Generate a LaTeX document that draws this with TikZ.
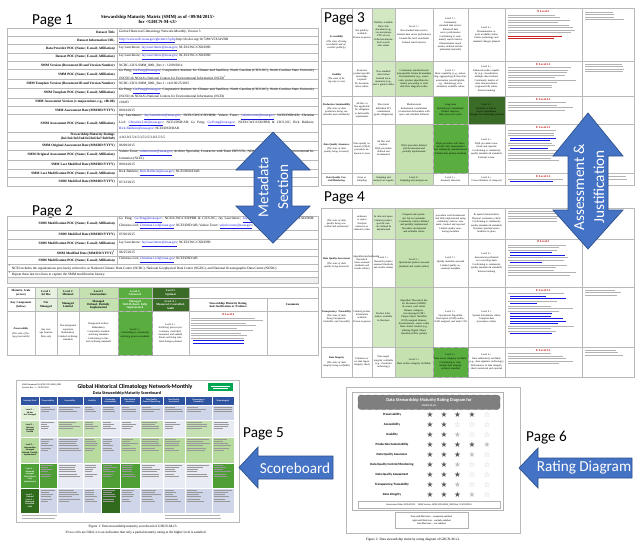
\documentclass[tikz,border=0pt]{standalone}
\usepackage{fontspec}
\setmainfont{Liberation Serif}
\newfontfamily\calibri{Carlito}
\newfontfamily\djv{DejaVu Sans}

\definecolor{arrowblue}{HTML}{4472C4}
\definecolor{arrowedge}{HTML}{2F528F}
\definecolor{linkblue}{HTML}{1A1AE6}
\definecolor{redmark}{HTML}{C00000}
\definecolor{lvone}{HTML}{E6F2DF}
\definecolor{lvtwo}{HTML}{D2E8C3}
\definecolor{lvthree}{HTML}{C4E1AF}
\definecolor{lvfour}{HTML}{5AAE40}
\definecolor{lvfive}{HTML}{3B6C27}
\definecolor{sbblue}{HTML}{2E54A1}
\definecolor{sbdark}{HTML}{D0D6EA}
\definecolor{sblight}{HTML}{E8EAF4}
\definecolor{sblv1}{HTML}{E2EFD9}
\definecolor{sblv2}{HTML}{C5E0B3}
\definecolor{sblv3}{HTML}{B7DA9E}
\definecolor{sblv4}{HTML}{4E9F36}
\definecolor{sblv5}{HTML}{2F6A1D}
\definecolor{badgegreen}{HTML}{00A651}
\definecolor{titlegrey}{HTML}{7F7F7F}
\definecolor{stardark}{HTML}{595959}
\definecolor{starlight}{HTML}{BFBFBF}

\newcommand\lnk[1]{\textcolor{linkblue}{\underline{#1}}}
\newcommand\kc[2]{\textbf{\textit{#1}}\\[1pt]\textit{#2}}
% text cell between x1,x2 and y1,y2
\newcommand\mcell[6][]{%
  \pgfmathsetmacro\cw{(#3-#2-2)*0.03}%
  \node[cell,text width=\cw cm,#1] at ({(#2+#3)/2},{(#4+#5)/2}) {#6};}
% grey strokes for unreadable small print
\newcommand\blurb[5][]{%
  \foreach \k in {1,...,#5}{%
    \pgfmathsetmacro\lw{#4*(0.6+0.4*rnd)}%
    \draw[txtline,#1] (#2,{#3+(\k-1)*2.5}) -- ++(\lw,0);}}
\newcommand\redhd[3]{\node[redhead] at (#1,#2) {{\djv ★}~Level #3};}

\tikzset{
  grid/.style={draw=gray!55, line width=0.25pt},
  pagelbl/.style={font=\calibri\fontsize{13}{15}\selectfont, anchor=base west, inner sep=0pt},
  arrowlbl/.style={font=\calibri\fontsize{13}{17}\selectfont, text=white, align=center, inner sep=0pt},
  blockarrow/.style={fill=arrowblue, draw=arrowedge, line width=0.6pt},
  rowlbl/.style={font=\bfseries\fontsize{2.9}{3.4}\selectfont, anchor=east, align=right, inner sep=0pt},
  rowval/.style={font=\fontsize{2.9}{3.4}\selectfont, anchor=west, align=justify, text width=5.85cm, inner sep=0pt},
  cell/.style={font=\fontsize{2.2}{2.65}\selectfont, align=center, inner sep=0pt},
  hdcell/.style={cell, font=\bfseries\fontsize{2.5}{2.9}\selectfont},
  txtline/.style={gray!60, line width=0.4pt},
  redhead/.style={font=\bfseries\fontsize{2.5}{3}\selectfont, text=redmark, inner sep=0pt},
  sbhead/.style={font=\calibri\bfseries\fontsize{1.8}{2.1}\selectfont, text=white, align=center, inner sep=0pt},
  sblvl/.style={font=\calibri\bfseries\fontsize{1.8}{2.1}\selectfont, align=center, inner sep=0pt, text width=0.5cm},
  sbline/.style={black!40, line width=0.25pt},
  ratelbl/.style={font=\calibri\bfseries\fontsize{2.7}{3.2}\selectfont, inner sep=0pt},
  star/.style={font=\djv\fontsize{6.5}{7}\selectfont, inner sep=0pt},
  caption/.style={font=\fontsize{2.9}{3.5}\selectfont, inner sep=0pt},
}

\begin{document}
\begin{tikzpicture}[x=0.03cm,y=-0.03cm]
\pgfmathsetseed{11}
\useasboundingbox (0,0) rectangle (640,551);
\fill[white] (0,0) rectangle (640,551);

% ---------- Page 1 ----------
\node[pagelbl] (pone) at (32,24) {Page 1};
\node[font=\bfseries\fontsize{4}{4.8}\selectfont, align=center, inner sep=0pt] (smmtitle) at (158,19.5)
  {Stewardship Maturity Matrix (SMM) as of <09/04/2015>\\for <GHCN-M-v3>};
\foreach \ya/\yb/\lab/\val [count=\r] in {
  28/36.3/{Dataset Title}/{Global Historical Climatology Network-Monthly, Version 3},
  36.3/44.6/{Dataset Information URL}/{\lnk{http://www.ncdc.noaa.gov/ghcnm/v3.php} http://dx.doi.org/10.7289/V5X34VDR},
  44.6/52.9/{Data Provider POC (Name; E-mail; Affiliation)}/{Jay Lawrimore; \lnk{Jay.Lawrimore@noaa.gov}; NCEI/CWC/CSD/DSB},
  52.9/61.2/{Dataset POC (Name; E-mail; Affiliation)}/{Jay Lawrimore; \lnk{Jay.Lawrimore@noaa.gov}; NCEI/CWC/CSD/DSB},
  61.2/69.5/{SMM Version (Document ID and Version Number)}/{NCDC-CICS-SMM\_0001\_Rev.1 / 12/09/2014},
  69.5/79.5/{SMM POC (Name; E-mail; Affiliation)}/{Ge Peng; \lnk{Ge.Peng@noaa.gov}; Cooperative Institute for Climate and Satellites, North Carolina (CICS-NC), North Carolina State University (NCSU) \& NOAA's National Centers for Environmental Information (NCEI)\textsuperscript{1}},
  79.5/87.8/{SMM Template Version (Document ID and Version Number)}/{NCDC-CICS-SMM\_0001\_Rev.1 / v4.0 06/25/2015},
  87.8/98/{SMM Template POC (Name; E-mail; Affiliation)}/{Ge Peng; \lnk{Ge.Peng@noaa.gov}; Cooperative Institute for Climate and Satellites, North Carolina (CICS-NC), North Carolina State University (NCSU) \& NOAA's National Centers for Environmental Information (NCEI)},
  98/106.3/{SMM Assessment Version (v-major.minor, e.g., v0b.00)}/{v01r03},
  106.3/114.6/{SMM Assessment Date (MM/DD/YYYY)}/{09/04/2015},
  114.6/132.5/{SMM Assessment POC (Name; E-mail; Affiliation)}/{Jay Lawrimore; \lnk{Jay.Lawrimore@noaa.gov}; NCEI/CWC/CSD/DSB; Valerie Toner; \lnk{valerie.toner@noaa.gov}; NCEI/DSD/AB; Christina Lief; \lnk{Christina.Lief@noaa.gov}; NCEI/DSD/AB; Ge Peng; \lnk{Ge.Peng@noaa.gov}; NCEI/CWC/CSD/PRB \& CICS-NC; Rick Baldwin; \lnk{Rick.Baldwin@noaa.gov}; NCEI/DSD/DAB},
  132.5/141.5/{Stewardship Maturity Ratings\\(In1/In2/In3/In4/In5/In6/In7/In8/In9)}/{4.0/2.0/2.5/4.5/3.5/2.5/3.0/2.5/3.5},
  141.5/149.8/{SMM Original Assessment Date (MM/DD/YYYY)}/{06/08/2015},
  149.8/160.5/{SMM Original Assessment POC (Name; E-mail; Affiliation)}/{Valerie Toner; \lnk{valerie.toner@noaa.gov}; Archive Specialist, Contractor with Team ERT/STG; NOAA's National Centers for Environmental Information (NCEI)},
  160.5/168.8/{SMM Last Modified Date (MM/DD/YYYY)}/{09/04/2015},
  168.8/177.6/{SMM Last Modification POC (Name; E-mail; Affiliation)}/{Rick Baldwin; \lnk{Rick.Baldwin@noaa.gov}; NCEI/DSD/DAB},
  177.6/186.5/{SMM Modified Date (MM/DD/YYYY)}/{07/22/2015}}{
  \draw[grid] (7,\ya) rectangle (318,\yb);
  \draw[grid] (117,\ya) -- (117,\yb);
  \node[rowlbl] (onel\r) at (115,{(\ya+\yb)/2}) {\lab};
  \node[rowval] (onev\r) at (119,{(\ya+\yb)/2}) {\val};
}

% ---------- Page 2 ----------
\node[pagelbl] (ptwo) at (32,215) {Page 2};
\foreach \ya/\yb/\lab/\val [count=\r] in {
  216/230.5/{SMM Modification POC (Name; E-mail; Affiliation)}/{Ge Peng; \lnk{Ge.Peng@noaa.gov}; NCEI/CWC/CSD/PRB \& CICS-NC; Jay Lawrimore; \lnk{Jay.Lawrimore@noaa.gov}; NCEI/CWC/CSD/DSB; Christina Lief; \lnk{Christina.Lief@noaa.gov}; NCEI/DSD/AB; Valerie Toner; \lnk{valerie.toner@noaa.gov}; NCEI/DSD/AB},
  230.5/239/{SMM Modified Date (MM/DD/YYYY)}/{07/06/2015},
  239/249/{SMM Modification POC (Name; E-mail; Affiliation)}/{Jay Lawrimore; \lnk{Jay.Lawrimore@noaa.gov}; NCEI/CWC/CSD/DSB},
  249/256.5/{SMM Modified Date (MM/DD/YYYY)\textsuperscript{2}}/{06/25/2015},
  256.5/264/{SMM Modification POC (Name; E-mail; Affiliation)}/{Christina Lief; \lnk{Christina.Lief@noaa.gov}; NCEI/DSD/AB}}{
  \draw[grid] (7,\ya) rectangle (318,\yb);
  \draw[grid] (117,\ya) -- (117,\yb);
  \node[rowlbl] (twol\r) at (115,{(\ya+\yb)/2}) {\lab};
  \node[rowval] (twov\r) at (119,{(\ya+\yb)/2}) {\val};
}
\draw[grid] (7,264) rectangle (318,271);
\draw[grid] (7,271) rectangle (318,277.5);
\draw[grid, fill=gray!12] (7,277.5) rectangle (318,283.5);
\node[rowval, text width=9cm] (fnone) at (9,267.5) {\textsuperscript{1} NCEI includes the organizations previously referred to as National Climatic Data Center (NCDC), National Geophysical Data Center (NGDC), and National Oceanographic Data Center (NODC).};
\node[rowval, text width=9cm] (fntwo) at (9,274.2) {\textsuperscript{2} Repeat these last two lines to capture the SMM modification history.};

% maturity scale table
\fill[lvone] (35,287) rectangle (57,311);
\fill[lvtwo] (57,287) rectangle (79,311);
\fill[lvthree] (79,287) rectangle (118,311);
\fill[lvfour] (118,287) rectangle (152,311);
\fill[lvfive] (152,287) rectangle (189,311);
\fill[lvfour] (118,311) rectangle (152,355);
\draw[grid] (7,287) rectangle (318,355);
\draw[grid] (7,298.5) -- (318,298.5);
\draw[grid] (7,311) -- (318,311);
\foreach \x in {35,57,79,118,152,189} \draw[grid] (\x,287) -- (\x,355);
\draw[grid] (267,298.5) -- (267,355);
\draw[dashed, gray!75, line width=0.3pt] (118,311) rectangle (152,355);
\mcell[hdcell]{7}{35}{287}{298.5}{Maturity Scale\\(across)}
\mcell[hdcell]{7}{35}{298.5}{311}{Key Component\\(below)}
\mcell[hdcell]{35}{57}{287}{298.5}{Level 1\\Ad Hoc}
\mcell[hdcell]{35}{57}{298.5}{311}{Not\\Managed}
\mcell[hdcell]{57}{79}{287}{298.5}{Level 2\\Minimal}
\mcell[hdcell]{57}{79}{298.5}{311}{Managed\\Limited}
\mcell[hdcell]{79}{118}{287}{298.5}{Level 3\\Intermediate}
\mcell[hdcell]{79}{118}{298.5}{311}{Managed\\Defined, Partially\\Implemented}
\mcell[hdcell, text=white]{118}{152}{287}{298.5}{Level 4\\Advanced}
\mcell[hdcell, text=white]{118}{152}{298.5}{311}{Managed\\Well-Defined, Fully\\Implemented}
\mcell[hdcell, text=white]{152}{189}{287}{298.5}{Level 5\\Optimal}
\mcell[hdcell, text=white]{152}{189}{298.5}{311}{Level 4 +\\Measured, Controlled,\\Audit}
\mcell[hdcell]{189}{267}{298.5}{311}{Stewardship Maturity Rating\\And Justification or Evidence}
\mcell[hdcell]{267}{318}{298.5}{311}{Comments}
\mcell{7}{35}{311}{355}{\kc{Preservability}{(The state of being preservable)}}
\mcell{35}{57}{311}{355}{Any storage location\\[0.6pt]Data only}
\mcell{57}{79}{311}{355}{Non-designated repository\\[0.6pt]Redundancy\\[0.6pt]Limited archiving standards}
\mcell{79}{118}{311}{355}{Designated archive\\[0.6pt]Redundancy\\[0.6pt]Community standard archiving metadata\\[0.6pt]Conforming to limited archiving standards}
\mcell{118}{152}{311}{355}{Level 3 +\\[0.6pt]Conforming to community archiving process standards}
\mcell{152}{189}{311}{355}{Level 4 +\\[0.6pt]Archiving process performance controlled, measured, and audited\\[0.6pt]Future archiving standard changes planned}
\redhd{228}{314.5}{4}
\blurb{191}{318}{74}{9}
\blurb[linkblue]{193}{340.5}{60}{2}

% ---------- Page 3 ----------
\fill[lvtwo] (372,8) rectangle (395,61);
\fill[lvtwo] (372,61) rectangle (395,96);
\fill[lvthree] (395,61) rectangle (433,96);
\fill[lvfour] (433,96) rectangle (468,124);
\fill[lvfive] (468,96) rectangle (505,124);
\fill[lvthree] (395,124) rectangle (433,173);
\fill[lvfour] (433,124) rectangle (468,173);
\fill[lvtwo] (372,173) rectangle (395,185);
\fill[lvthree] (395,173) rectangle (433,185);
\draw[grid] (321,8) rectangle (634,185);
\foreach \x in {352,372,395,433,468,505,582} \draw[grid] (\x,8) -- (\x,185);
\foreach \y in {61,96,124,173} \draw[grid] (321,\y) -- (634,\y);
\draw[dashed, gray!75, line width=0.3pt] (433,124) rectangle (468,173);
\mcell{321}{352}{24}{61}{\kc{Accessibility}{(The state of being searchable and accessible publicly)}}
\mcell{352}{372}{8}{61}{Not publicly available\\[0.6pt]Person-to-person}
\mcell{372}{395}{8}{61}{Publicly available\\[0.6pt]Direct file download (e.g., via anonymous FTP server)\\[0.6pt]Collection/dataset-level searchable online}
\mcell{395}{433}{8}{61}{Level 2 +\\[0.6pt]Non-standard data service\\[0.6pt]Limited data server performance\\[0.6pt]Granule/file level searchable\\[0.6pt]Limited search metrics}
\mcell{433}{468}{8}{61}{Level 3 +\\[0.6pt]Community-standard data service\\[0.6pt]Enhanced data server performance\\[0.6pt]Conforming to community search metrics\\[0.6pt]Dissemination report metrics defined and implemented internally}
\mcell{468}{505}{8}{61}{Level 4 +\\[0.6pt]Dissemination reports available online\\[0.6pt]Future technology and standard changes planned}
\mcell{321}{352}{61}{96}{\kc{Usability}{(The state of being easy to use)}}
\mcell{352}{372}{61}{96}{Extensive product-specific knowledge required\\[0.6pt]No documentation online}
\mcell{372}{395}{61}{96}{Non-standard data format\\[0.6pt]Limited documentation (e.g., user's guide) online}
\mcell{395}{433}{61}{96}{Community standard-based interoperable format \& metadata\\[0.6pt]Documentation (e.g., source code, product algorithm document, processing or total data flow diagram) online}
\mcell{433}{468}{61}{96}{Level 3 +\\[0.6pt]Basic capability (e.g., subsetting, aggregating) \& data characterization (overall/global, e.g., climatology, error estimates) available online}
\mcell{468}{505}{61}{96}{Level 4 +\\[0.6pt]Enhanced online capability (e.g., visualization, multiple data formats)\\[0.6pt]Community metrics of data characterization (regional/cell) online\\[0.6pt]External ranking}
\mcell{321}{352}{96}{124}{\kc{Production Sustainability}{(The state of data production being sustainable and extendable)}}
\mcell{352}{372}{96}{124}{Ad Hoc or Not applicable\\[0.6pt]No obligation or deliverable requirement}
\mcell{372}{395}{96}{124}{Short-term\\[0.6pt]Individual PI's commitment (grant obligations)}
\mcell{395}{433}{96}{124}{Medium-term\\[0.6pt]Institutional commitment (contractual deliverables with specs and schedule defined)}
\mcell{433}{468}{96}{124}{Long-term\\[0.6pt]Institutional commitment\\[0.6pt]Product improvement process in place}
\mcell{468}{505}{96}{124}{Level 4 +\\[0.6pt]National or international commitment\\[0.6pt]Changes for technology planned}
\mcell{321}{352}{124}{173}{\kc{Data Quality Assurance}{(The state of data quality being screened)}}
\mcell{352}{372}{124}{173}{Data quality assurance (DQA) procedure unknown or none}
\mcell{372}{395}{124}{173}{Ad Hoc and random\\[0.6pt]DQA procedure defined and documented}
\mcell{395}{433}{124}{173}{DQA procedure defined and documented and partially implemented}
\mcell{433}{468}{124}{173}{DQA procedure well documented, fully implemented and community standard-based\\[0.6pt]Limited data quality metadata}
\mcell{468}{505}{124}{173}{Level 4 +\\[0.6pt]DQA procedure monitored and reported\\[0.6pt]Conforming to community quality metadata \& standards\\[0.6pt]External review}
\mcell{321}{352}{173}{185}{\textbf{\textit{Data Quality Control/Monitoring}}}
\mcell{352}{372}{173}{185}{None or Sampling}
\mcell{372}{395}{173}{185}{Sampling and analysis are regular}
\mcell{395}{433}{173}{185}{Level 2+\\Sampling and analysis are}
\mcell{433}{468}{173}{185}{Level 3 +\\Anomaly detection}
\mcell{468}{505}{173}{185}{Level 4 +\\Cross-validation of temporal}
% justification and comments, page 3
\redhd{543}{11.5}{2}
\blurb{508}{15}{70}{8}
\blurb[redmark!85]{508}{36}{68}{2}
\redhd{543}{64}{2.5}
\blurb{508}{67.5}{70}{9}
\redhd{543}{99}{4.5}
\blurb{508}{102.5}{70}{4}
\redhd{543}{127}{3.5}
\blurb{508}{130.5}{70}{3}
\blurb[linkblue]{510}{138}{55}{2}
\blurb{508}{143}{70}{2}
\blurb[linkblue]{510}{148}{55}{1}
\blurb{508}{150.5}{70}{5}
\redhd{543}{176}{2.5}
\blurb{508}{179}{70}{1}
\blurb[linkblue]{510}{181.5}{45}{1}
\blurb{585}{12}{45}{4}
\blurb{585}{64}{45}{4}
\blurb{585}{176.5}{45}{2}
\node[pagelbl] (pthree) at (324,22) {Page 3};

% ---------- Page 4 ----------
\node[pagelbl] (pfour) at (324,201) {Page 4};
\fill[lvtwo] (372,208) rectangle (395,239);
\fill[lvthree] (395,208) rectangle (433,239);
\fill[lvthree] (395,239) rectangle (433,287);
\fill[lvtwo] (372,287) rectangle (395,347);
\fill[lvthree] (395,287) rectangle (433,347);
\fill[lvthree] (395,347) rectangle (433,377);
\fill[lvfour] (433,347) rectangle (468,377);
\draw[grid] (321,208) rectangle (634,377);
\foreach \x in {352,372,395,433,468,505,582} \draw[grid] (\x,208) -- (\x,377);
\foreach \y in {239,287,347} \draw[grid] (321,\y) -- (634,\y);
\draw[dashed, gray!75, line width=0.3pt] (433,347) rectangle (468,377);
\mcell{321}{352}{208}{239}{\textit{(The state of data quality being controlled and monitored)}}
\mcell{352}{372}{208}{239}{unknown or sparse\\[0.6pt]Analysis unknown or random in time}
\mcell{372}{395}{208}{239}{In time and space\\[0.6pt]Limited product-specific metrics defined \& implemented}
\mcell{395}{433}{208}{239}{Frequent and systematic but not automatic\\[0.6pt]Community metrics defined and partially implemented\\[0.6pt]Procedure documented and available online}
\mcell{433}{468}{208}{239}{procedure well documented and fully implemented using community metrics; automatic, tracked and reported\\[0.6pt]Limited quality monitoring metadata}
\mcell{468}{505}{208}{239}{\& spatial characteristics\\[0.6pt]Physical consistency check\\[0.6pt]Conforming to community quality metadata \& standards\\[0.6pt]Dynamic providers/users feedback in place}
\mcell{321}{352}{239}{287}{\kc{Data Quality Assessment}{(The state of data quality being assessed)}}
\mcell{352}{372}{239}{287}{Algorithm/method/model theoretical basis assessed (methods and results online)}
\mcell{372}{395}{239}{287}{Level 1 +\\[0.6pt]Research product assessed (methods and results online)}
\mcell{395}{433}{239}{287}{Level 2 +\\[0.6pt]Operational product assessed (methods and results online)}
\mcell{433}{468}{239}{287}{Level 3 +\\[0.6pt]Quality metadata assessed\\[0.6pt]Limited quality assessment metadata}
\mcell{468}{505}{239}{287}{Level 4 +\\[0.6pt]Assessment performed on a recurring basis\\[0.6pt]Conforming to community quality metadata \& standards\\[0.6pt]External ranking}
\mcell{321}{352}{287}{347}{\kc{Transparency/ Traceability}{(The state of data being transparent, trackable, and traceable)}}
\mcell{352}{372}{287}{347}{Limited product information available\\[0.6pt]Person-to-person}
\mcell{372}{395}{287}{347}{Product information available in literature}
\mcell{395}{433}{287}{347}{Algorithm Theoretical Basis Document (ATBD) \& source code online\\[0.6pt]Dataset configuration managed (CM)\\[0.6pt]Unique Object Identifier (UOI) assigned (dataset, documentation, source code)\\[0.6pt]Data citation tracked (e.g., utilizing Digital Object Identifier (DOI) system)}
\mcell{433}{468}{287}{347}{Level 3 +\\[0.6pt]Operational Algorithm Description (OAD) online; OAD assigned, and under CM}
\mcell{468}{505}{287}{347}{Level 4 +\\[0.6pt]System information online\\[0.6pt]Complete data provenance online}
\mcell{321}{352}{347}{377}{\kc{Data Integrity}{(The state of data integrity being verifiable)}}
\mcell{352}{372}{347}{377}{Unknown or no data ingest integrity check}
\mcell{372}{395}{347}{377}{Data ingest integrity verifiable (e.g., checksum technology)}
\mcell{395}{433}{347}{377}{Level 2 +\\[0.6pt]Data archive integrity verifiable}
\mcell{433}{468}{347}{377}{Level 3 +\\[0.6pt]Data access integrity verifiable\\[0.6pt]Conforming to community data integrity technical standard}
\mcell{468}{505}{347}{377}{Level 4 +\\[0.6pt]Data authenticity verifiable (e.g., data signature technology)\\[0.6pt]Performance of data integrity check monitored and reported}
% justification and comments, page 4
\blurb{508}{211}{70}{5}
\redhd{543}{241.5}{3}
\blurb{508}{245}{70}{3}
\blurb[linkblue]{510}{252.5}{60}{2}
\blurb{508}{257.5}{70}{2}
\blurb[linkblue]{510}{262.5}{40}{1}
\blurb{508}{265}{70}{5}
\redhd{543}{290}{2.5}
\blurb{508}{293.5}{70}{1}
\blurb[linkblue]{510}{296}{60}{2}
\blurb{508}{301}{70}{1}
\blurb[linkblue]{510}{303.5}{40}{1}
\blurb{508}{306}{70}{3}
\blurb[linkblue]{510}{313.5}{62}{5}
\blurb{508}{326}{70}{3}
\blurb[linkblue]{510}{333.5}{50}{1}
\redhd{543}{350}{3.5}
\blurb{508}{353.5}{70}{5}
\blurb{585}{290}{45}{3}
\blurb{585}{350}{45}{3}

% ---------- Page 5: scoreboard ----------
\def\sbx{{21,39,57,83,101,120,140,163,185,212,234}}
\def\sby{{397,405,420,437,463,488,513}}
\draw[gray!55, line width=0.4pt] (16,380) rectangle (239,522);
\node[font=\calibri\fontsize{1.9}{2.3}\selectfont, align=left, anchor=west, inner sep=0pt] (sbdoc) at (22,386.5)
  {SMM Document ID: NCDC-CICS-SMM\_0001\\Version: Rev. 1 -- 12/09/2014};
\node[font=\calibri\bfseries\fontsize{5}{6}\selectfont, inner sep=0pt] (sbtitle) at (135,386.5) {Global Historical Climatology Network-Monthly};
\node[font=\calibri\bfseries\fontsize{3.6}{4}\selectfont, inner sep=0pt] (sbsub) at (127,393) {Data Stewardship Maturity Scoreboard};
\fill[badgegreen] (208,383) rectangle (233,391);
\draw[white, line width=0.3pt] (211,386) -- (230,386) (213,388.5) -- (228,388.5);
\fill[sbblue] (21,397) rectangle (234,405);
\foreach \l in {1,...,5}{
  \pgfmathsetmacro\ya{\sby[\l]}
  \pgfmathsetmacro\yb{\sby[\l+1]}
  \ifodd\l \fill[sbdark] (39,\ya) rectangle (234,\yb); \else \fill[sblight] (39,\ya) rectangle (234,\yb); \fi
  \fill[sblv\l] (21,\ya) rectangle (39,\yb);
}
% cells reached by each component
\foreach \c/\l in {1/4,2/2,3/2,3/3,4/4,4/5,5/3,5/4,6/2,6/3,7/3,8/2,8/3,9/3,9/4}{
  \pgfmathsetmacro\xa{\sbx[\c]}
  \pgfmathsetmacro\xb{\sbx[\c+1]}
  \pgfmathsetmacro\ya{\sby[\l]}
  \pgfmathsetmacro\yb{\sby[\l+1]}
  \fill[sblv\l] (\xa,\ya) rectangle (\xb,\yb);
}
\foreach \l/\n in {1/3,2/4,3/6,4/6,5/6}{
  \pgfmathsetmacro\ya{\sby[\l]}
  \foreach \c in {1,...,9}{
    \pgfmathsetmacro\xa{\sbx[\c]}
    \pgfmathsetmacro\xb{\sbx[\c+1]}
    \foreach \k in {1,...,\n}{
      \pgfmathsetmacro\lw{(\xb-\xa-4)*(0.45+0.55*rnd)}
      \draw[sbline] ({\xa+2},{\ya+2+(\k-1)*2.2}) -- ++(\lw,0);
    }
  }
}
\foreach \x in {39,57,83,101,120,140,163,185,212} \draw[white, line width=0.5pt] (\x,397) -- (\x,513);
\foreach \y in {405,420,437,463,488} \draw[white, line width=0.5pt] (21,\y) -- (234,\y);
\node[sbhead] (sbh0) at (30,401) {Maturity Scale};
\foreach \nm [count=\c] in {Preservability, Accessibility, Usability, {Production\\Sustainability}, {Data Quality\\Assurance}, {Data Quality\\Control/Monitoring}, {Data Quality\\Assessment}, {Transparency/\\Traceability}, {Data Integrity}}{
  \pgfmathsetmacro\xa{\sbx[\c]}
  \pgfmathsetmacro\xb{\sbx[\c+1]}
  \node[sbhead] (sbh\c) at ({(\xa+\xb)/2},401) {\nm};
}
\foreach \nm [count=\l] in {{Level 1 --\\Ad Hoc\\Not Managed}, {Level 2 --\\Minimal\\Managed\\Limited}, {Level 3 --\\Intermediate\\Managed\\Defined, Partially\\Implemented}, {Level 4 --\\Advanced\\Managed\\Well-Defined,\\Fully\\Implemented}, {Level 5 --\\Optimal\\Level 4 +\\Measured,\\Controlled,\\Audit}}{
  \pgfmathsetmacro\ya{\sby[\l]}
  \pgfmathsetmacro\yb{\sby[\l+1]}
  \def\tc{black}\ifnum\l>3 \def\tc{white}\fi
  \node[sblvl, text=\tc] (sbl\l) at (30,{(\ya+\yb)/2}) {\nm};
}
\blurb[line width=0.25pt]{22}{515.5}{55}{2}
\blurb[line width=0.25pt]{165}{515.5}{68}{2}
\node[caption] (capone) at (133,526.5) {Figure 1: Data stewardship maturity scoreboard of GHCN-M-v3.};
\node[caption] (caponeb) at (136,533) {If two cells are filled, it is an indication that only a partial maturity rating at the higher level is satisfied.};
\node[pagelbl] (pfive) at (243,437) {Page 5};

% ---------- Page 6: rating diagram ----------
\draw[gray!55, line width=0.4pt] (346,387) rectangle (520,533);
\draw[gray!60, line width=0.3pt] (352,392) rectangle (503,510.5);
\draw[rounded corners=2pt, fill=titlegrey, draw=black!60, dashed, line width=0.3pt] (358,395) rectangle (500,409.5);
\node[font=\calibri\bfseries\fontsize{3.8}{4.4}\selectfont, text=white, align=center, inner sep=0pt] (rdtitle) at (429,402.2)
  {Data Stewardship Maturity Rating Diagram for\\{\fontsize{2.2}{2.6}\selectfont <GHCN-M-v3>}};
\foreach \lab/\d/\h [count=\r] in {Preservability/4/0, Accessibility/2/0, Usability/2/1, {Production Sustainability}/4/1, {Data Quality Assurance}/3/1, {Data Quality Control/Monitoring}/2/1, {Data Quality Assessment}/3/0, {Transparency/Traceability}/2/1, {Data Integrity}/3/1}{
  \pgfmathsetmacro\yy{415+(\r-1)*10}
  \node[ratelbl] (rl\r) at (392,\yy) {\lab};
  \foreach \sx [count=\si] in {430,444,457.5,472,487}{
    \pgfmathtruncatemacro\kind{(\si<=\d) ? 0 : ((\si<=\d+\h) ? 1 : 2)}
    \ifcase\kind
      \node[star, text=stardark] at (\sx,\yy) {★};
    \or
      \node[star, text=starlight] at (\sx,\yy) {★};
    \or
      \node[star, text=starlight] at (\sx,\yy) {☆};
    \fi
  }
}
\draw[gray!60, line width=0.3pt] (358,501.5) rectangle (500,508);
\node[font=\calibri\fontsize{2}{2.4}\selectfont, inner sep=0pt] (rdfoot) at (429,504.8)
  {Assessment Date: 09/04/2015 \quad SMM Version: NCDC-CICS-SMM\_0001 Rev 1 12/09/2014};
\draw[gray!60, line width=0.3pt] (395,512.5) rectangle (468,528);
\node[font=\calibri\fontsize{2}{2.6}\selectfont, align=center, inner sep=0pt] (rdkey) at (431.5,520.2)
  {Dark solid filled stars -- completely satisfied\\Light solid filled stars -- partially satisfied\\Non-filled stars -- not satisfied};
\node[caption] (captwo) at (413,540) {Figure 2: Data stewardship maturity rating diagram of GHCN-M-v3.};
\node[pagelbl] (psix) at (526,441) {Page 6};

% ---------- block arrows ----------
\draw[blockarrow] (273,132) -- (310,170) -- (292,170) -- (292,206) -- (310,206) -- (273,243)
  -- (236,206) -- (254,206) -- (254,170) -- (236,170) -- cycle;
\node[arrowlbl, rotate=90] (meta) at (273,187) {Metadata\\Section};
\draw[blockarrow] (588,113) -- (623,156) -- (608,156) -- (608,210) -- (623,210) -- (588,249)
  -- (553,210) -- (568,210) -- (568,156) -- (553,156) -- cycle;
\node[arrowlbl, rotate=90] (assess) at (589,187) {Assessment \&\\Justification};
\draw[blockarrow] (239,467.5) -- (258,447) -- (258,456) -- (333,456) -- (333,479) -- (258,479) -- (258,488) -- cycle;
\node[arrowlbl] (score) at (295,468) {Scoreboard};
\draw[blockarrow] (519,468) -- (538,448) -- (538,458) -- (632,458) -- (632,478) -- (538,478) -- (538,488) -- cycle;
\node[arrowlbl] (rating) at (584,468) {Rating Diagram};
\end{tikzpicture}
\end{document}
